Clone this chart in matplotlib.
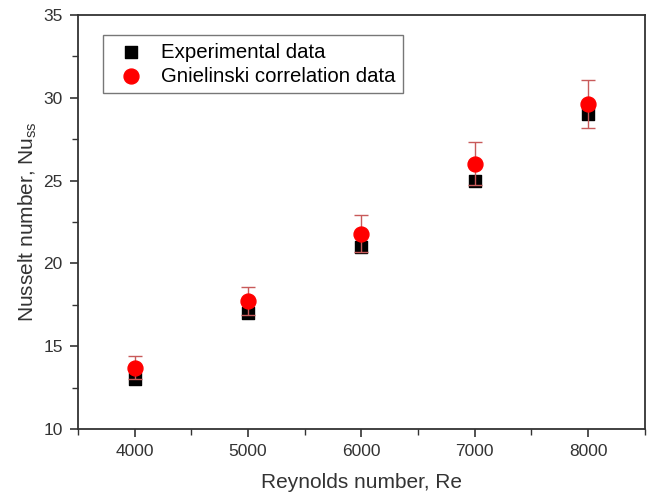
import matplotlib
matplotlib.use("Agg")
import matplotlib.pyplot as plt
from matplotlib.ticker import MultipleLocator

plt.rcParams["font.family"] = ["Liberation Sans", "DejaVu Sans"]

# Data
reynolds = [4000, 5000, 6000, 7000, 8000]
nu_experimental = [13.0, 17.0, 21.0, 25.0, 29.0]
nu_gnielinski = [13.7, 17.7, 21.8, 26.0, 29.6]
nu_gnielinski_err = [0.7, 0.85, 1.1, 1.3, 1.45]

fig = plt.figure(figsize=(6.5, 4.97), dpi=100)
ax = fig.add_axes([0.12, 0.137, 0.872, 0.833])

ax.scatter(reynolds, nu_experimental, marker="s", s=75, color="black",
           zorder=2, label="Experimental data")
ax.errorbar(reynolds, nu_gnielinski, yerr=nu_gnielinski_err, fmt="none",
            ecolor="#c85a5a", elinewidth=1.0, capsize=5, capthick=1.0, zorder=3)
ax.scatter(reynolds, nu_gnielinski, marker="o", s=115, color="#ff0000",
           zorder=4, label="Gnielinski correlation data")

ax.set_xlim(3500, 8500)
ax.set_ylim(10, 35)
ax.xaxis.set_major_locator(MultipleLocator(1000))
ax.xaxis.set_minor_locator(MultipleLocator(500))
ax.yaxis.set_major_locator(MultipleLocator(5))
ax.yaxis.set_minor_locator(MultipleLocator(2.5))
ax.tick_params(which="major", direction="out", length=6, width=1.2,
               labelsize=12.5, colors="#333333", pad=5)
ax.tick_params(which="minor", direction="out", length=4, width=1.0,
               colors="#333333")
for sp in ax.spines.values():
    sp.set_linewidth(1.3)
    sp.set_color("#333333")

ax.set_xlabel("Reynolds number, Re", fontsize=15, color="#333333", labelpad=10)
ax.set_ylabel("Nusselt number, Nu$_{\\mathregular{ss}}$", fontsize=15,
              color="#333333", labelpad=3)

leg = ax.legend(loc="upper left", bbox_to_anchor=(0.026, 0.975), fontsize=14.7,
                frameon=True, fancybox=False, edgecolor="#555555",
                handletextpad=0.5, borderpad=0.35, labelspacing=0.25,
                handlelength=2.0)
leg.get_frame().set_linewidth(1.0)

fig.savefig("out.png", dpi=100)
